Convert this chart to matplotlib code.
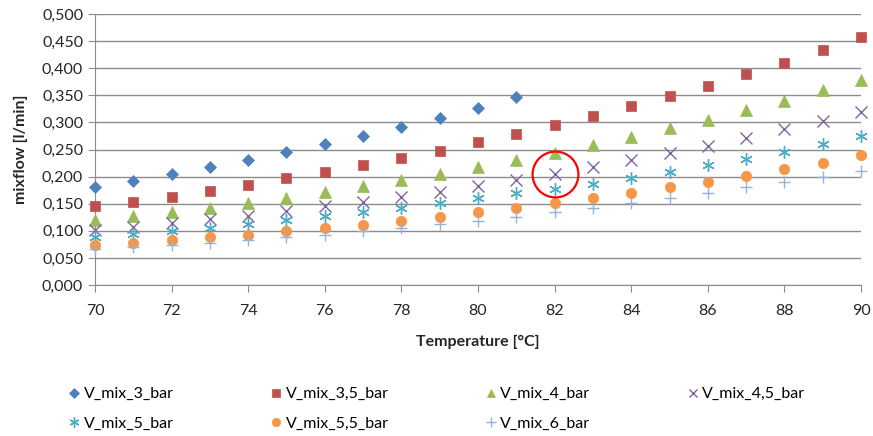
import numpy as np
import matplotlib
matplotlib.use("Agg")
import matplotlib.pyplot as plt
from matplotlib.ticker import FuncFormatter, MultipleLocator

plt.rcParams['font.family'] = ['Lato', 'DejaVu Sans']

temps = list(range(70, 91))
temps_3bar = list(range(70, 82))

v_mix_3 = [0.181, 0.192, 0.205, 0.217, 0.231, 0.245, 0.260, 0.275, 0.292, 0.309, 0.327, 0.347]
v_mix_3_5 = [0.145, 0.154, 0.163, 0.174, 0.185, 0.197, 0.209, 0.221, 0.234, 0.248, 0.263,
             0.278, 0.295, 0.312, 0.330, 0.349, 0.368, 0.389, 0.410, 0.433, 0.457]
v_mix_4 = [0.120, 0.127, 0.135, 0.143, 0.152, 0.161, 0.172, 0.182, 0.193, 0.205, 0.218,
           0.231, 0.244, 0.258, 0.273, 0.289, 0.305, 0.322, 0.340, 0.359, 0.379]
v_mix_4_5 = [0.101, 0.107, 0.114, 0.121, 0.128, 0.136, 0.145, 0.153, 0.163, 0.172, 0.183,
             0.194, 0.205, 0.217, 0.230, 0.243, 0.257, 0.272, 0.287, 0.303, 0.320]
v_mix_5 = [0.089, 0.094, 0.100, 0.106, 0.113, 0.120, 0.127, 0.135, 0.143, 0.151, 0.160,
           0.170, 0.178, 0.187, 0.198, 0.209, 0.221, 0.233, 0.246, 0.260, 0.274]
v_mix_5_5 = [0.074, 0.078, 0.083, 0.088, 0.093, 0.099, 0.105, 0.111, 0.118, 0.126, 0.134,
             0.142, 0.151, 0.160, 0.170, 0.180, 0.190, 0.202, 0.214, 0.226, 0.239]
v_mix_6 = [0.066, 0.070, 0.074, 0.078, 0.083, 0.088, 0.093, 0.099, 0.105, 0.112, 0.119,
           0.126, 0.134, 0.142, 0.151, 0.160, 0.170, 0.180, 0.190, 0.200, 0.211]

highlight = (82, 0.205)

series = [
    ("V_mix_3_bar", temps_3bar, v_mix_3, "D", "#4F81BD", 6),
    ("V_mix_3,5_bar", temps, v_mix_3_5, "s", "#C0504D", 7.5),
    ("V_mix_4_bar", temps, v_mix_4, "^", "#9BBB59", 8),
    ("V_mix_4,5_bar", temps, v_mix_4_5, "x", "#8064A2", 8),
    ("V_mix_5_bar", temps, v_mix_5, (6, 2, 0), "#4BACC6", 9),
    ("V_mix_5,5_bar", temps, v_mix_5_5, "o", "#F79646", 7.5),
    ("V_mix_6_bar", temps, v_mix_6, "+", "#95B3D7", 9),
]

fig = plt.figure(figsize=(8.73, 4.36), dpi=100)
ax = fig.add_axes([0.1088, 0.3463, 0.8775, 0.6216])

handles = []
for name, x, y, m, c, ms in series:
    h, = ax.plot(x, y, linestyle="none", marker=m, color=c, markersize=ms,
                 markeredgewidth=1.0 if m in ("x", "+", (6, 2, 0)) else 0.5,
                 label=name, clip_on=False, zorder=3)
    handles.append(h)

ax.plot([highlight[0]], [highlight[1]], linestyle="none", marker="o", markersize=33,
        markerfacecolor="none", markeredgecolor="#FF0000", markeredgewidth=1.6, zorder=4)

ax.set_xlim(70, 90)
ax.set_ylim(0, 0.5)
ax.xaxis.set_major_locator(MultipleLocator(2))
ax.yaxis.set_major_locator(MultipleLocator(0.05))
ax.yaxis.set_major_formatter(FuncFormatter(lambda v, p: f"{v:.3f}".replace(".", ",")))
ax.grid(axis="y", color="#8C8C8C", linewidth=1.0)
ax.set_axisbelow(True)
for s in ("top", "right"):
    ax.spines[s].set_visible(False)
for s in ("left", "bottom"):
    ax.spines[s].set_color("#8C8C8C")
ax.tick_params(axis="both", colors="#8C8C8C", labelcolor="#262626", labelsize=11.5, length=5)
ax.tick_params(axis="x", pad=9)

ax.set_xlabel("Temperature [°C]", fontsize=11.5, fontweight="bold", color="#262626", labelpad=12)
ax.set_ylabel("mixflow [l/min]", fontsize=11.5, fontweight="bold", color="#262626", labelpad=10)

# matplotlib fills legend columns first, reorder so the entries run row by row
order = [0, 4, 1, 5, 2, 6, 3]
fig.legend([handles[i] for i in order], [series[i][0] for i in order],
           loc="upper left", bbox_to_anchor=(0.063, 0.145), ncol=4, frameon=False,
           fontsize=11.5, handlelength=0.6, handletextpad=0.3, columnspacing=6.1,
           labelspacing=0.95, markerscale=0.8)

fig.savefig("out.png", dpi=100)
